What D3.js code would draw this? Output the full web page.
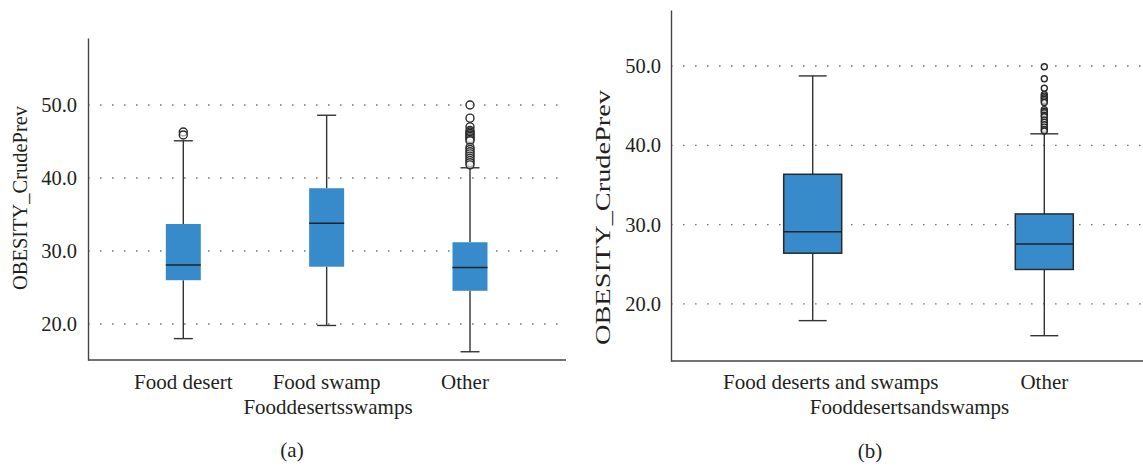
<!DOCTYPE html>
<html>
<head>
<meta charset="utf-8">
<script src="https://cdn.jsdelivr.net/npm/d3@7"></script>
<style>
  html, body { margin: 0; padding: 0; background: #fff; }
  svg { display: block; }
  text { font-family: "Liberation Serif", "DejaVu Serif", serif; fill: #231f20; }
</style>
</head>
<body>
<svg id="chart" width="1143" height="468"></svg>
<script>
// ---------------- DATA ----------------
// Panel (a)
const catsA = ["Food desert", "Food swamp", "Other"];
const q1A = [26.0, 27.85, 24.55];
const medA = [28.1, 33.8, 27.75];
const q3A = [33.7, 38.6, 31.2];
const lowA = [18.0, 19.8, 16.2];
const highA = [45.1, 48.6, 41.4];
const outA = [
  [46.3, 45.9],
  [],
  [50.0, 48.2, 47.0, 46.5, 46.3, 46.1, 45.9, 45.7, 45.5, 45.3, 45.1,
   44.2, 43.9, 43.6, 43.3, 43.0, 42.7, 42.4, 42.1, 41.8]
];
const xTitleA = "Fooddesertsswamps";
const captionA = "(a)";

// Panel (b)
const catsB = ["Food deserts and swamps", "Other"];
const q1B = [26.4, 24.35];
const medB = [29.1, 27.55];
const q3B = [36.35, 31.35];
const lowB = [17.9, 16.0];
const highB = [48.75, 41.45];
const outB = [
  [],
  [49.9, 48.4, 47.2, 46.4, 46.2, 46.0, 45.8, 45.6, 45.4,
   44.5, 44.3, 44.1, 43.8, 43.6, 43.2, 42.9, 42.6, 42.3, 42.0, 41.8]
];
const xTitleB = "Fooddesertsandswamps";
const captionB = "(b)";

const yTicks = [20, 30, 40, 50];
const yTitle = "OBESITY_CrudePrev";

// ---------------- DRAW ----------------
const svg = d3.select("#chart");
const boxFill = "#388bcb";
const ink = "#333";

function panel(cfg) {
  const g = svg.append("g");
  const y = d3.scaleLinear().domain(cfg.yDomain).range([cfg.bottom, cfg.top]);
  const x = d3.scalePoint().domain(cfg.cats).range(cfg.xRange);

  // gridlines
  g.append("g").selectAll("line").data(yTicks).join("line")
    .attr("x1", cfg.left).attr("x2", cfg.gridRight)
    .attr("y1", d => y(d)).attr("y2", d => y(d))
    .attr("stroke", "#777").attr("stroke-width", 1.3)
    .attr("stroke-dasharray", "1.6,10.4");

  // y axis
  const ya = g.append("g").attr("transform", `translate(${cfg.left},0)`)
    .call(d3.axisLeft(y).tickValues(yTicks).tickFormat(d3.format(".1f")).tickSize(0).tickPadding(cfg.tickPad));
  ya.attr("font-family", null).attr("font-size", null);
  ya.select(".domain").attr("stroke", "#444").attr("stroke-width", 1.4);
  ya.selectAll("text").style("font-size", cfg.tickFont + "px")
    .style("font-family", "'Liberation Serif', serif").style("fill", "#231f20");

  // x axis
  g.append("line").attr("x1", cfg.left).attr("x2", cfg.right)
    .attr("y1", cfg.bottom).attr("y2", cfg.bottom)
    .attr("stroke", "#444").attr("stroke-width", 1.4);

  // boxes
  const bw = cfg.boxW, cw = cfg.capW;
  cfg.cats.forEach((c, i) => {
    const cx = x(c);
    const bg = g.append("g");
    // whiskers
    bg.append("line").attr("x1", cx).attr("x2", cx).attr("y1", y(cfg.high[i])).attr("y2", y(cfg.q3[i]))
      .attr("stroke", ink).attr("stroke-width", 1.4);
    bg.append("line").attr("x1", cx).attr("x2", cx).attr("y1", y(cfg.q1[i])).attr("y2", y(cfg.low[i]))
      .attr("stroke", ink).attr("stroke-width", 1.4);
    bg.append("line").attr("x1", cx - cw / 2).attr("x2", cx + cw / 2).attr("y1", y(cfg.high[i])).attr("y2", y(cfg.high[i]))
      .attr("stroke", ink).attr("stroke-width", 1.4);
    bg.append("line").attr("x1", cx - cw / 2).attr("x2", cx + cw / 2).attr("y1", y(cfg.low[i])).attr("y2", y(cfg.low[i]))
      .attr("stroke", ink).attr("stroke-width", 1.4);
    // box
    bg.append("rect").attr("x", cx - bw / 2).attr("width", bw)
      .attr("y", y(cfg.q3[i])).attr("height", y(cfg.q1[i]) - y(cfg.q3[i]))
      .attr("fill", boxFill)
      .attr("stroke", cfg.boxStroke ? "#2a2a2a" : "none").attr("stroke-width", 1.5);
    // median
    bg.append("line").attr("x1", cx - bw / 2).attr("x2", cx + bw / 2).attr("y1", y(cfg.med[i])).attr("y2", y(cfg.med[i]))
      .attr("stroke", "#1d2228").attr("stroke-width", 1.5);
    // outliers
    bg.selectAll("circle").data(cfg.out[i]).join("circle")
      .attr("cx", cx).attr("cy", d => y(d)).attr("r", cfg.outR)
      .attr("fill", "#fff").attr("fill-opacity", 0.6)
      .attr("stroke", "#2a2a2a").attr("stroke-width", 1.4);
  });

  // category labels
  g.append("g").selectAll("text").data(cfg.cats).join("text")
    .attr("x", (d, i) => x(d) + (cfg.labelDx[i] || 0)).attr("y", cfg.catY)
    .attr("text-anchor", "middle").attr("font-size", cfg.catFont)
    .text(d => d);

  // x title
  g.append("text").attr("x", cfg.xTitleX).attr("y", cfg.xTitleY)
    .attr("text-anchor", "middle").attr("font-size", cfg.catFont).text(cfg.xTitle);

  // y title
  const yt = g.append("text")
    .attr("transform", `translate(${cfg.yTitleX},${cfg.yTitleY}) rotate(-90)`)
    .attr("text-anchor", "middle").attr("font-size", cfg.catFont).text(yTitle);
  if (cfg.yTitleLen) yt.attr("textLength", cfg.yTitleLen).attr("lengthAdjust", "spacingAndGlyphs");

  // caption
  g.append("text").attr("x", cfg.capX).attr("y", cfg.capY)
    .attr("text-anchor", "middle").attr("font-size", cfg.catFont).text(cfg.caption);
}

panel({
  cats: catsA, q1: q1A, med: medA, q3: q3A, low: lowA, high: highA, out: outA,
  xTitle: xTitleA, caption: captionA,
  yDomain: [15.07, 59.18], top: 38, bottom: 360, left: 88, right: 566, gridRight: 558,
  xRange: [183.3, 470], boxW: 35, capW: 19, outR: 4, boxStroke: false,
  tickPad: 11, tickFont: 20.5, catFont: 21, labelDx: [0, 0, -5],
  catY: 389, xTitleX: 328, xTitleY: 414, yTitleX: 27, yTitleY: 198, yTitleLen: 184,
  capX: 292, capY: 457
});

panel({
  cats: catsB, q1: q1B, med: medB, q3: q3B, low: lowB, high: highB, out: outB,
  xTitle: xTitleB, caption: captionB,
  yDomain: [12.81, 57.06], top: 10, bottom: 361, left: 671, right: 1143, gridRight: 1143,
  xRange: [812.7, 1044.3], boxW: 58, capW: 28, outR: 3, boxStroke: true,
  tickPad: 10, tickFont: 20.5, catFont: 21, labelDx: [18, 0],
  catY: 389, xTitleX: 909.5, xTitleY: 414, yTitleX: 610, yTitleY: 217.5, yTitleLen: 255,
  capX: 870, capY: 458
});
</script>
</body>
</html>
